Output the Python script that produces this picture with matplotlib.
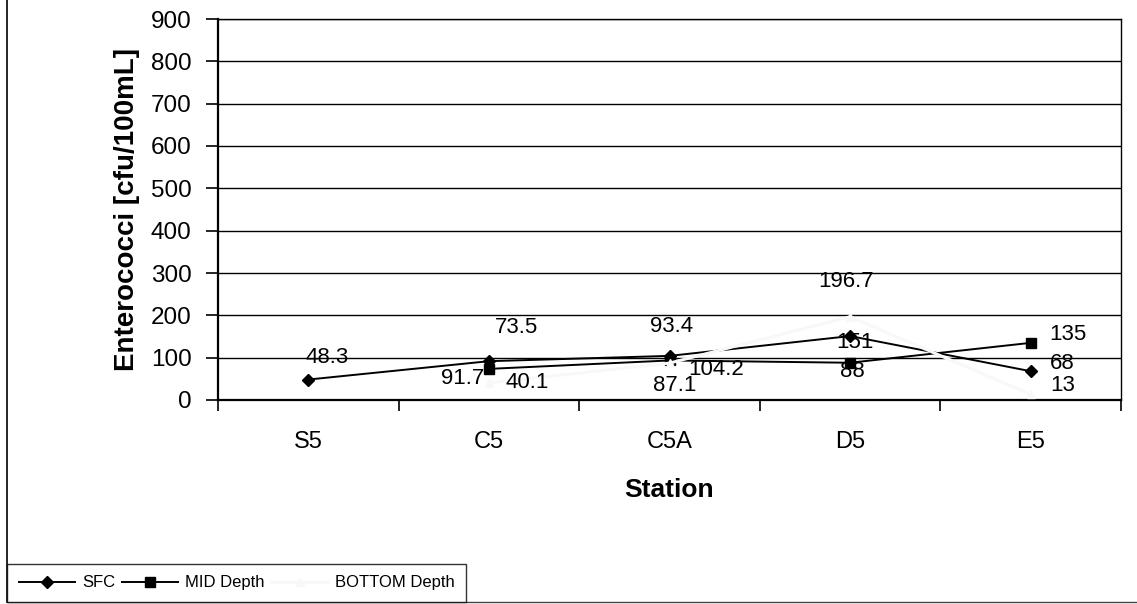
import numpy as np
import matplotlib
matplotlib.use("Agg")
import matplotlib.pyplot as plt
from matplotlib.lines import Line2D

plt.rcParams['font.family'] = ['Liberation Sans', 'DejaVu Sans']

stations = ["S5", "C5", "C5A", "D5", "E5"]
sfc = [48.3, 91.7, 104.2, 151, 68]
mid = [np.nan, 73.5, 93.4, 88, 135]
bottom = [np.nan, 40.1, 87.1, 196.7, 13]
yticks = [0, 100, 200, 300, 400, 500, 600, 700, 800, 900]

# label offsets (pixels) relative to each point
sfc_off = [(19, 22), (-26, -17), (47, -14), (5, -6), (32, 8)]
mid_off = [None, (28, 41), (2, 34), (2, -9), (37, 8)]
bot_off = [None, (38, 1), (5, -22), (-4, 35), (32, 9)]

W, H = 1137, 604
fig = plt.figure(figsize=(W / 100, H / 100), dpi=100)
ax = fig.add_axes([218 / W, (H - 400) / H, (1121 - 218) / W, 381 / H])

x = np.arange(len(stations))
ax.set_xlim(-0.5, len(stations) - 0.5)
ax.set_ylim(0, 900)

for v in yticks[1:]:
    ax.axhline(v, color='black', lw=1.0, zorder=1)

ax.plot(x, sfc, color='black', lw=1.4, marker='D', ms=6, zorder=3, label='SFC')
ax.plot(x, mid, color='black', lw=1.4, marker='s', ms=7, zorder=3, label='MID Depth')
ax.plot(x, bottom, color='#f8f8f8', lw=2.2, marker='^', ms=6, zorder=4,
        label='BOTTOM Depth')

def labels(vals, offs):
    for xi, v, o in zip(x, vals, offs):
        if o is None or np.isnan(v):
            continue
        ax.annotate(f"{v:g}", (xi, v), xytext=o, textcoords='offset pixels',
                    ha='center', va='center', fontsize=16, zorder=5,
                    annotation_clip=False)

labels(sfc, sfc_off)
labels(mid, mid_off)
labels(bottom, bot_off)

ax.set_yticks(yticks)
ax.set_yticklabels([str(t) for t in yticks], fontsize=17.5)
ax.tick_params(axis='y', direction='out', length=9, width=1.2, pad=10)
ax.set_xticks(x)
ax.set_xticklabels(stations, fontsize=17)
ax.tick_params(axis='x', which='major', length=0, pad=22)
ax.set_xticks(np.arange(-0.5, len(stations), 1.0), minor=True)
ax.tick_params(axis='x', which='minor', direction='out', length=8, width=1.2)

for s in ['left', 'bottom']:
    ax.spines[s].set_linewidth(1.6)
for s in ['right', 'top']:
    ax.spines[s].set_linewidth(1.0)

ax.set_ylabel("Enterococci [cfu/100mL]", fontsize=20, fontweight='bold', labelpad=8)
ax.set_xlabel("Station", fontsize=19, fontweight='bold', labelpad=18)

# outer chart border (left and bottom edges visible in the reference)
fig.add_artist(Line2D([7 / W, 7 / W], [2 / H, 1.0], transform=fig.transFigure,
                      color='black', lw=1.2))
fig.add_artist(Line2D([7 / W, 1.0], [2 / H, 2 / H], transform=fig.transFigure,
                      color='#444444', lw=1.0))

leg = fig.legend(loc='lower left', bbox_to_anchor=(7 / W, 2 / H), ncol=3,
                 fontsize=12, frameon=True, fancybox=False, edgecolor='black',
                 handlelength=3.4, columnspacing=0.4, handletextpad=0.4,
                 borderpad=0.7, borderaxespad=0)
leg.get_frame().set_linewidth(1.0)

fig.savefig("out.png", dpi=100)
